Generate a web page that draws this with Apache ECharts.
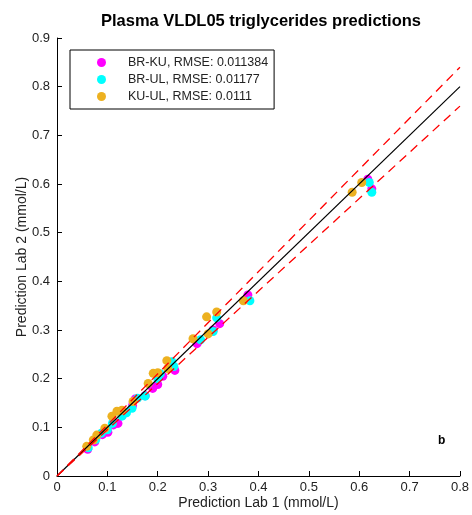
<!DOCTYPE html>
<html>
<head>
<meta charset="utf-8">
<script src="https://cdn.jsdelivr.net/npm/echarts@6/dist/echarts.min.js"></script>
<style>html,body{margin:0;padding:0;background:#fff}#c{width:472px;height:515px}</style>
</head>
<body>
<div id="c"></div>
<script>
const titleText = 'Plasma VLDL05 triglycerides predictions';
const xName = 'Prediction Lab 1 (mmol/L)';
const yName = 'Prediction Lab 2 (mmol/L)';
const seriesNames = ['BR-KU, RMSE: 0.011384', 'BR-UL, RMSE: 0.01177', 'KU-UL, RMSE: 0.0111'];
const seriesColors = ['#ff00ff', '#00ffff', '#edb120'];
const brkuX = [0.061,0.075,0.090,0.101,0.112,0.121,0.130,0.150,0.155,0.175,0.190,0.200,0.210,0.234,0.228,0.278,0.310,0.323,0.379,0.617,0.625];
const brkuY = [0.055,0.070,0.085,0.090,0.105,0.108,0.125,0.145,0.158,0.165,0.180,0.188,0.205,0.217,0.225,0.272,0.300,0.313,0.372,0.610,0.590];
const brulX = [0.062,0.077,0.088,0.100,0.110,0.129,0.138,0.149,0.160,0.175,0.200,0.205,0.228,0.232,0.285,0.310,0.317,0.383,0.620,0.625];
const brulY = [0.058,0.075,0.088,0.095,0.108,0.123,0.130,0.139,0.160,0.164,0.200,0.210,0.235,0.225,0.280,0.297,0.325,0.360,0.603,0.583];
const kuulX = [0.059,0.072,0.079,0.095,0.109,0.119,0.129,0.151,0.181,0.191,0.200,0.218,0.220,0.270,0.297,0.300,0.317,0.370,0.586,0.605];
const kuulY = [0.061,0.074,0.084,0.098,0.123,0.133,0.135,0.153,0.190,0.211,0.212,0.237,0.221,0.282,0.327,0.292,0.337,0.360,0.583,0.603];
const identityLine = [[0,0],[0.8,0.8]];
const upperLine = [[0,0],[0.8,0.84]];
const lowerLine = [[0,0],[0.8,0.76]];
const panelLabel = 'b';

function zip(a,b){return a.map((v,i)=>[v,b[i]]);}
const font = 'Liberation Sans, Arial, Helvetica, sans-serif';
const chart = echarts.init(document.getElementById('c'));
const pts = [zip(brkuX,brkuY), zip(brulX,brulY), zip(kuulX,kuulY)];
const scatter = pts.map((d,i)=>({
  type:'scatter', name:seriesNames[i], data:d, symbol:'circle', symbolSize:9,
  itemStyle:{color:seriesColors[i], opacity:1}, z:3
}));
chart.setOption({
  animation:false,
  backgroundColor:'#fff',
  title:{text:titleText, left:256, top:8, textAlign:'center',
    textStyle:{fontFamily:font, fontSize:16.5, fontWeight:'bold', color:'#000'}},
  grid:{left:57, right:12, top:38, bottom:37, containLabel:false},
  legend:{
    orient:'vertical', left:70, top:50, itemWidth:9, itemHeight:9, itemGap:4,
    padding:[6,6,6,27], borderColor:'#000', borderWidth:1, icon:'circle',
    data:seriesNames,
    textStyle:{fontFamily:font, fontSize:12.5, color:'#222', padding:[0,0,0,17]}
  },
  xAxis:{type:'value', min:0, max:0.8, interval:0.1, name:xName, nameLocation:'middle', nameGap:20,
    nameMoveOverlap:false,
    nameTextStyle:{fontFamily:font, fontSize:14, color:'#222', verticalAlign:'top'},
    axisLine:{lineStyle:{color:'#000', width:1}}, axisTick:{inside:true, length:5, lineStyle:{color:'#000'}},
    axisLabel:{fontFamily:font, fontSize:13, color:'#222', margin:5, formatter:v=>String(+v.toFixed(1))},
    splitLine:{show:false}},
  yAxis:{type:'value', min:0, max:0.9, interval:0.1, name:yName, nameLocation:'middle', nameGap:28,
    nameMoveOverlap:false,
    nameTextStyle:{fontFamily:font, fontSize:14, color:'#222'},
    axisLine:{lineStyle:{color:'#000', width:1}}, axisTick:{inside:true, length:5, lineStyle:{color:'#000'}},
    axisLabel:{fontFamily:font, fontSize:13, color:'#222', margin:7, formatter:v=>String(+v.toFixed(1))},
    splitLine:{show:false}},
  graphic:[{type:'text', left:438, top:435, style:{text:panelLabel, font:'bold 12px '+font, fill:'#000'}}],
  series:[
    ...scatter,
    {type:'line', data:identityLine, symbol:'none', lineStyle:{color:'#000', width:1.2}, z:4, silent:true},
    {type:'line', data:upperLine, symbol:'none', lineStyle:{color:'#ff0000', width:1.3, type:[9,6]}, z:4, silent:true},
    {type:'line', data:lowerLine, symbol:'none', lineStyle:{color:'#ff0000', width:1.3, type:[9,6]}, z:4, silent:true}
  ]
});
</script>
</body>
</html>
